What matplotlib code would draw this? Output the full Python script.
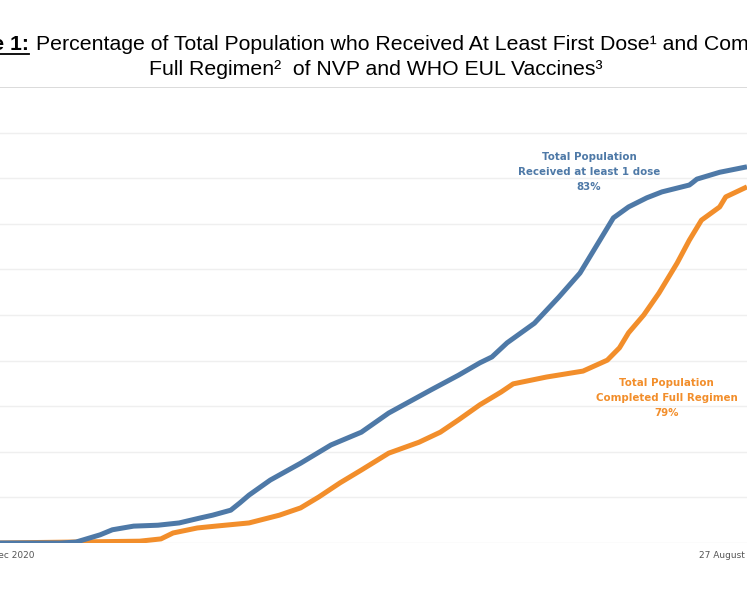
import matplotlib.pyplot as plt
from matplotlib.lines import Line2D

# days counted from 30 Dec 2020, values in % of total population
dose1_days = [-2, 18, 23, 31, 35, 42, 50, 57, 64, 68, 74, 77, 80, 87, 97, 107, 117, 126,
              140, 149, 156, 160, 165, 174, 182, 189, 195, 200, 205, 211, 216, 225, 226,
              227.5, 235, 244]
dose1_pct = [0, 0, 0.2, 1.8, 2.9, 3.7, 3.9, 4.4, 5.5, 6.1, 7.2, 8.8, 10.5, 13.8, 17.5, 21.5,
             24.3, 28.5, 33.6, 36.8, 39.5, 40.8, 43.9, 48.2, 53.9, 59.2, 65.8, 71.3, 73.7,
             75.7, 77.0, 78.5, 79.0, 79.8, 81.3, 82.5]

full_days = [-2, 44, 51, 55, 63, 69, 80, 90, 97, 103, 110, 117, 126, 136, 143, 149, 156,
             163, 167, 178, 190, 198, 202, 205, 210, 215, 221, 225, 229, 235, 237, 244]
full_pct = [0, 0.4, 0.9, 2.2, 3.3, 3.7, 4.4, 6.1, 7.7, 10.1, 13.2, 16.0, 19.7, 22.1, 24.3,
            27.0, 30.3, 33.1, 34.9, 36.4, 37.7, 40.1, 42.8, 46.1, 50.0, 54.8, 61.4, 66.4,
            70.8, 73.7, 75.9, 78.1]

tick_days = [0, 240]
tick_labels = ["30 Dec 2020", "27 August 2021"]

blue = "#4e79a7"
orange = "#f28e2b"

fig = plt.figure(figsize=(7.47, 5.98), dpi=100)
ax = fig.add_axes([0, 55 / 598, 1, 456 / 598])

for v in range(0, 100, 10):
    ax.axhline(v, color="#efefef", lw=1, zorder=0)
ax.axhline(100, color="#d4d4d4", lw=1.2, zorder=0)

ax.plot(dose1_days, dose1_pct, color=blue, lw=3.6, solid_capstyle="butt",
        solid_joinstyle="round", zorder=3)
ax.plot(full_days, full_pct, color=orange, lw=3.6, solid_capstyle="butt",
        solid_joinstyle="round", zorder=2)

ax.set_xlim(-2, 244)
ax.set_ylim(0, 100)
for s in ax.spines.values():
    s.set_visible(False)
ax.set_yticks([])
ax.set_xticks(tick_days, tick_labels, fontsize=6.5, color="#555555")
ax.tick_params(axis="x", length=0, pad=6)

ax.text(192, 81.4, "Total Population\nReceived at least 1 dose\n83%", color=blue,
        fontsize=7.4, fontweight="bold", ha="center", va="center", linespacing=1.65)
ax.text(217.5, 31.8, "Total Population\nCompleted Full Regimen\n79%", color=orange,
        fontsize=7.4, fontweight="bold", ha="center", va="center", linespacing=1.65)

# title, clipped by the figure edges like the reference
tfont = ["Liberation Sans", "DejaVu Sans"]
y1 = 1 - 50.5 / 598
y2 = 1 - 75 / 598
bold = fig.text(29 / 747, y1, "Figure 1:", family=tfont, fontsize=15.3,
                fontweight="bold", ha="right", va="baseline")
fig.text(36 / 747, y1, "Percentage of Total Population who Received At Least First Dose\u00b9 and Completed",
         family=tfont, fontsize=15.3, ha="left", va="baseline")
fig.text(376 / 747, y2, "Full Regimen\u00b2  of NVP and WHO EUL Vaccines\u00b3",
         family=tfont, fontsize=15.3, ha="center", va="baseline")

fig.canvas.draw()
bb = bold.get_window_extent().transformed(fig.transFigure.inverted())
uy = y1 - 3 / 598
fig.add_artist(Line2D([bb.x0, bb.x1], [uy, uy], color="black", lw=1.3,
                      transform=fig.transFigure))

fig.savefig("out.png", dpi=100)
